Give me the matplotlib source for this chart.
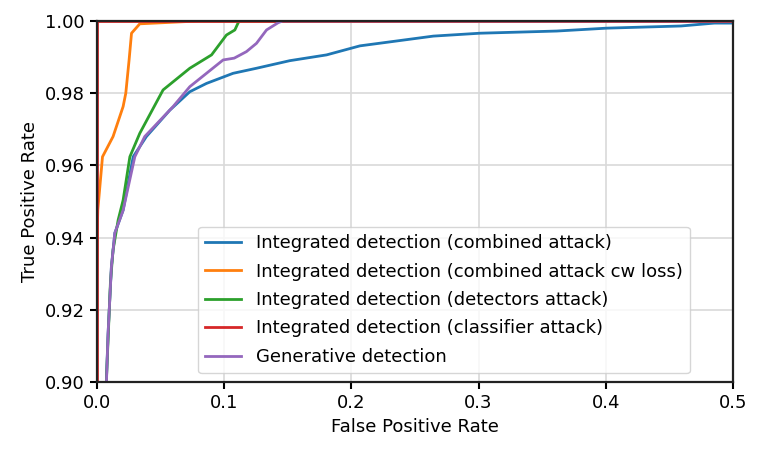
import matplotlib
matplotlib.use('Agg')
import matplotlib.pyplot as plt

# ROC curves (FPR, TPR)
fpr_comb = [0.0075, 0.0089, 0.0115, 0.0142, 0.0207, 0.0286, 0.039, 0.0574, 0.0731, 0.0862,
            0.1071, 0.1255, 0.1517, 0.1806, 0.2068, 0.2645, 0.3011, 0.3614, 0.4007, 0.4591,
            0.4853, 0.5]
tpr_comb = [0.90, 0.9136, 0.932, 0.9413, 0.9476, 0.9624, 0.968, 0.9753, 0.9804, 0.9827,
            0.9855, 0.9869, 0.989, 0.9906, 0.9931, 0.9958, 0.9966, 0.9972, 0.998, 0.9986,
            0.9994, 0.9994]

fpr_cw = [0.0, 0.0004, 0.0008, 0.0045, 0.0128, 0.0207, 0.0228, 0.0254, 0.0273, 0.0338,
          0.081, 0.5]
tpr_cw = [0.93, 0.942, 0.9476, 0.9624, 0.968, 0.9763, 0.980, 0.9892, 0.9966, 0.9992,
          1.0, 1.0]

fpr_det = [0.0075, 0.0107, 0.0128, 0.0168, 0.0207, 0.026, 0.0338, 0.0521, 0.0731, 0.0902,
           0.1019, 0.1085, 0.111, 0.112, 0.5]
tpr_det = [0.90, 0.9274, 0.9366, 0.9449, 0.9504, 0.9624, 0.9689, 0.9809, 0.9869, 0.9906,
           0.9961, 0.9975, 0.9994, 1.0, 1.0]

fpr_cls = [0.0, 0.0, 0.5]
tpr_cls = [0.0, 1.0, 1.0]

fpr_gen = [0.0076, 0.0089, 0.0115, 0.0142, 0.0207, 0.0299, 0.0377, 0.06, 0.0731, 0.0862,
           0.0993, 0.108, 0.1176, 0.1255, 0.1334, 0.1425, 0.146, 0.5]
tpr_gen = [0.90, 0.9136, 0.932, 0.9413, 0.9476, 0.9624, 0.968, 0.9763, 0.9818, 0.9855,
           0.9892, 0.9897, 0.9915, 0.9938, 0.9975, 0.9995, 1.0, 1.0]

labels = ['Integrated detection (combined attack)',
          'Integrated detection (combined attack cw loss)',
          'Integrated detection (detectors attack)',
          'Integrated detection (classifier attack)',
          'Generative detection']

fig = plt.figure(figsize=(7.62, 4.55), dpi=100)
ax = fig.add_axes([0.127, 0.160, 0.835, 0.794])

ax.plot(fpr_comb, tpr_comb, color='#1f77b4', lw=2, label=labels[0])
ax.plot(fpr_cw, tpr_cw, color='#ff7f0e', lw=2, label=labels[1])
ax.plot(fpr_det, tpr_det, color='#2ca02c', lw=2, label=labels[2])
ax.plot(fpr_cls, tpr_cls, color='#d62728', lw=2, label=labels[3])
ax.plot(fpr_gen, tpr_gen, color='#9467bd', lw=2, label=labels[4])

ax.set_xlim(0, 0.5)
ax.set_ylim(0.9, 1.0)
ax.set_xticks([0.0, 0.1, 0.2, 0.3, 0.4, 0.5])
ax.set_xticklabels(['0.0', '0.1', '0.2', '0.3', '0.4', '0.5'])
ax.set_yticks([0.90, 0.92, 0.94, 0.96, 0.98, 1.00])
ax.set_yticklabels(['0.90', '0.92', '0.94', '0.96', '0.98', '1.00'])
ax.tick_params(labelsize=13, width=1.5, length=5)
ax.grid(True, color='#d9d9d9', lw=1.2)
for s in ax.spines.values():
    s.set_linewidth(1.6)
    s.set_color('#222222')

ax.set_xlabel('False Positive Rate', fontsize=13)
ax.set_ylabel('True Positive Rate', fontsize=13)
ax.legend(loc='lower left', bbox_to_anchor=(0.159, 0.025), borderaxespad=0,
          fontsize=13, framealpha=0.8, labelspacing=0.58)

fig.savefig('out.png', dpi=100)
